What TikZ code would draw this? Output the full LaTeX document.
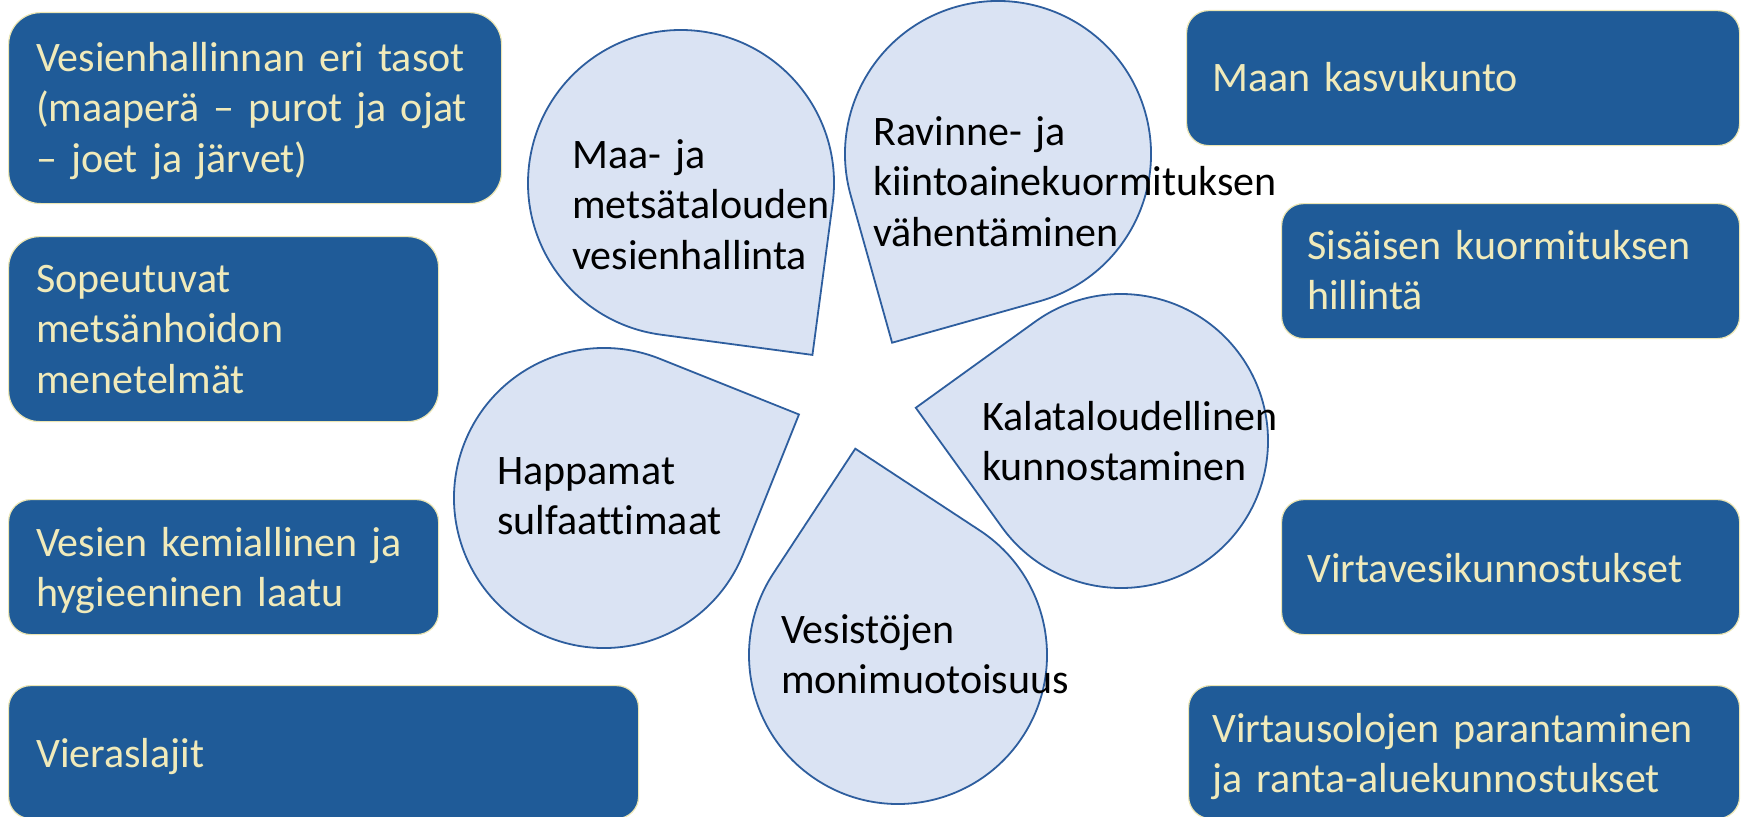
\documentclass[tikz,border=0pt]{standalone}
\usepackage{fontspec}
\setmainfont{Carlito}[Ligatures=NoCommon, WordSpace=0.75]
\usepackage{tikz}
\usepackage{color}

\definecolor{boxblue}{RGB}{31,91,152}
\definecolor{boxedge}{RGB}{236,230,180}
\definecolor{boxtext}{RGB}{240,234,186}
\definecolor{dropfill}{RGB}{218,227,243}
\definecolor{dropedge}{RGB}{46,94,158}

\begin{document}
\begin{tikzpicture}[%
      x=1pt, y=1pt,
      box/.style={fill=boxblue, draw=boxedge, line width=1.2pt, inner sep=0pt, anchor=north west},
      boxlabel/.style={text=boxtext, anchor=base west, inner sep=0pt, align=left,
        text width=560pt, font=\fontsize{42}{50.5}\selectfont},
      droplabel/.style={text=black, anchor=base west, inner sep=0pt, align=left,
        text width=560pt, font=\fontsize{42}{50.5}\selectfont},
      drop/.style={fill=dropfill, draw=dropedge, line width=1.8pt},
      ]
      \useasboundingbox (0,0) rectangle (1744,-816);

      % left column
      \node[box, rounded corners=32pt, minimum width=493pt, minimum height=191pt] (tasot) at (8,-12) {};
      \node[box, rounded corners=31pt, minimum width=430pt, minimum height=185pt] (metsa) at (8,-236) {};
      \node[box, rounded corners=22pt, minimum width=430pt, minimum height=135pt] (laatu) at (8,-499) {};
      \node[box, rounded corners=22pt, minimum width=630pt, minimum height=133pt] (vieras) at (8,-685) {};

      \node[boxlabel] (tasot-t) at (36,-71) {Vesienhallinnan eri tasot\\(maaperä – purot ja ojat\\– joet ja järvet)};
      \node[boxlabel] (metsa-t) at (36,-292) {Sopeutuvat\\metsänhoidon\\menetelmät};
      \node[boxlabel] (laatu-t) at (36,-556) {Vesien kemiallinen ja\\hygieeninen laatu};
      \node[boxlabel] (vieras-t) at (36,-767) {Vieraslajit};

      % right column
      \node[box, rounded corners=22pt, minimum width=553pt, minimum height=135pt] (kasvu) at (1186,-10) {};
      \node[box, rounded corners=22pt, minimum width=458pt, minimum height=135pt] (sisa) at (1281,-203) {};
      \node[box, rounded corners=22pt, minimum width=458pt, minimum height=135pt] (virta) at (1281,-499) {};
      \node[box, rounded corners=22pt, minimum width=551pt, minimum height=133pt] (ranta) at (1188,-685) {};

      \node[boxlabel] (kasvu-t) at (1212,-92) {Maan kasvukunto};
      \node[boxlabel] (sisa-t) at (1307,-259) {Sisäisen kuormituksen\\hillintä};
      \node[boxlabel] (virta-t) at (1307,-582) {Virtavesikunnostukset};
      \node[boxlabel] (ranta-t) at (1212,-742) {Virtausolojen parantaminen\\ja ranta-aluekunnostukset};

      % drops
      \draw[drop, shift={(681,-183)}, rotate=-52.6] (45:153) arc[start angle=45, end angle=315, radius=153pt] -- (0:216.4) -- cycle;
      \draw[drop, shift={(998,-154)}, rotate=-119.3] (45:153) arc[start angle=45, end angle=315, radius=153pt] -- (0:216.4) -- cycle;
      \draw[drop, shift={(1121,-441)}, rotate=-189.2] (45:147) arc[start angle=45, end angle=315, radius=147pt] -- (0:207.9) -- cycle;
      \draw[drop, shift={(898,-655)}, rotate=-258.3] (45:149) arc[start angle=45, end angle=315, radius=149pt] -- (0:210.7) -- cycle;
      \draw[drop, shift={(604,-498)}, rotate=23.2] (45:150) arc[start angle=45, end angle=315, radius=150pt] -- (0:212.1) -- cycle;

      \node[droplabel] (vesi) at (572,-168) {Maa- ja\\metsätalouden\\vesienhallinta};
      \node[droplabel] (ravinne) at (873,-145) {Ravinne- ja\\kiintoainekuormituksen\\vähentäminen};
      \node[droplabel] (kala) at (982,-430) {Kalataloudellinen\\kunnostaminen};
      \node[droplabel] (moni) at (781,-643) {Vesistöjen\\monimuotoisuus};
      \node[droplabel] (hapan) at (497,-484) {Happamat\\sulfaattimaat};
      \end{tikzpicture}
\end{document}
